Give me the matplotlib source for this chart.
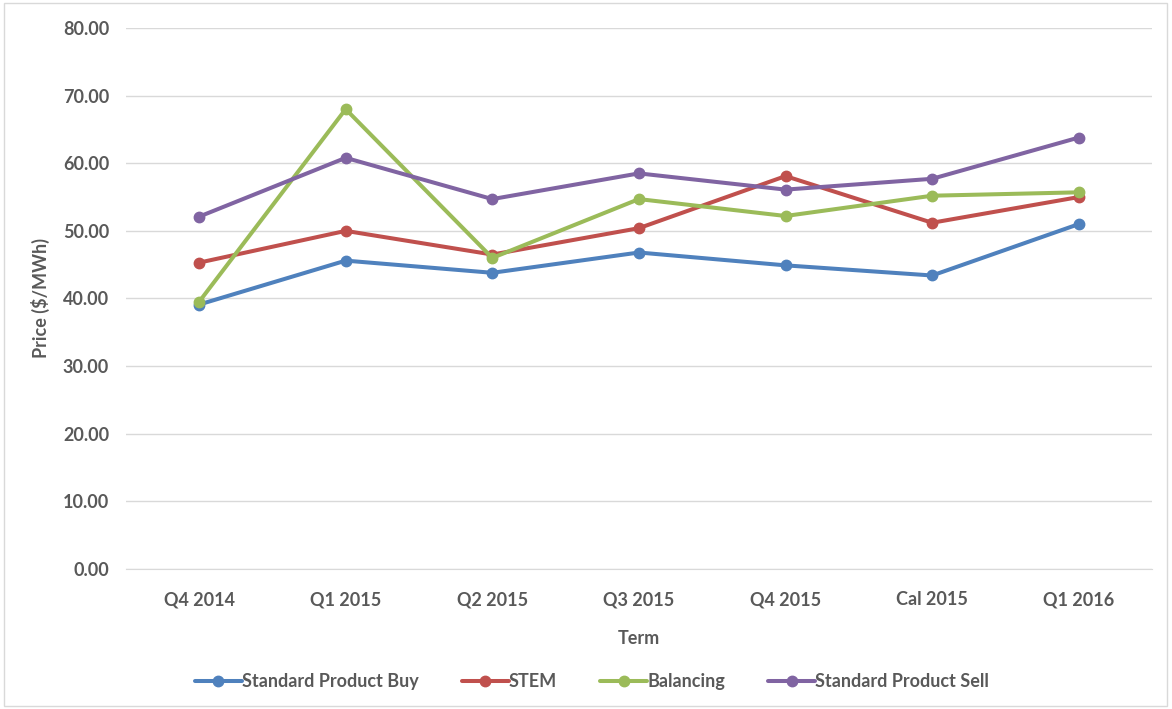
import matplotlib.pyplot as plt
from matplotlib.patches import Rectangle

terms = ['Q4 2014', 'Q1 2015', 'Q2 2015', 'Q3 2015', 'Q4 2015', 'Cal 2015', 'Q1 2016']
std_buy = [39.1, 45.6, 43.8, 46.8, 44.9, 43.4, 51.0]
stem = [45.3, 50.0, 46.5, 50.4, 58.1, 51.2, 55.0]
balancing = [39.5, 68.0, 46.0, 54.7, 52.2, 55.2, 55.7]
std_sell = [52.1, 60.8, 54.7, 58.5, 56.1, 57.7, 63.8]

series = [
  ('Standard Product Buy', std_buy, '#4F81BD'),
  ('STEM', stem, '#C0504D'),
  ('Balancing', balancing, '#9BBB59'),
  ('Standard Product Sell', std_sell, '#8064A2'),
]

plt.rcParams['font.family'] = ['Lato', 'DejaVu Sans']
text_col = '#595959'

fig = plt.figure(figsize=(11.72, 7.09), dpi=100)
ax = fig.add_axes([0.1073, 0.1975, 0.8757, 0.763])

x = range(len(terms))
for name, vals, col in series:
  ax.plot(x, vals, color=col, lw=2.9, marker='o', markersize=7.5, label=name, solid_capstyle='round')

ax.set_xlim(-0.5, len(terms) - 0.5)
ax.set_ylim(0, 80)
ax.set_yticks(range(0, 81, 10))
ax.set_yticklabels(['%.2f' % v for v in range(0, 81, 10)])
ax.set_xticks(list(x))
ax.set_xticklabels(terms)
ax.grid(axis='y', color='#D9D9D9', lw=1)
ax.set_axisbelow(True)
for s in ['top', 'right', 'left']:
  ax.spines[s].set_visible(False)
ax.spines['bottom'].set_color('#D9D9D9')
ax.tick_params(length=0, labelsize=13, labelcolor=text_col, pad=12)
ax.tick_params(axis='x', pad=16)
for lbl in ax.get_xticklabels() + ax.get_yticklabels():
  lbl.set_fontweight('bold')

ax.set_xlabel('Term', fontsize=13, fontweight='bold', color=text_col, labelpad=16)
ax.set_ylabel('Price ($/MWh)', fontsize=13, fontweight='bold', color=text_col, labelpad=9)

leg = fig.legend(loc='center', bbox_to_anchor=(0.505, 0.039), ncol=4, frameon=False,
                 fontsize=13, handlelength=2.6, handletextpad=0.0, columnspacing=2.4)
for t in leg.get_texts():
  t.set_color(text_col)
  t.set_fontweight('bold')

# light border round the chart
fig.patches.append(Rectangle((0.003, 0.004), 0.993, 0.992, transform=fig.transFigure,
                             fill=False, edgecolor='#D9D9D9', lw=1))

fig.savefig('out.png', dpi=100)
